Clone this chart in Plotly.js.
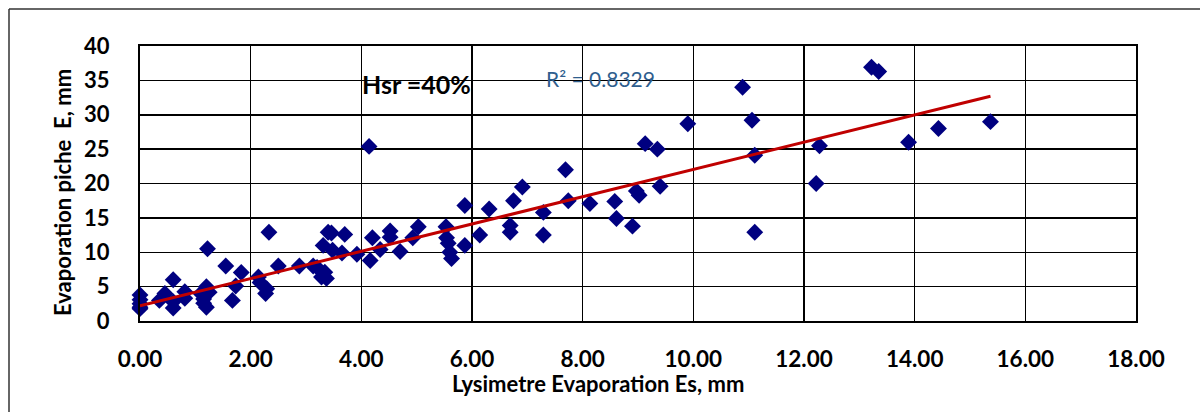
<!DOCTYPE html>
<html>
<head>
<meta charset="utf-8">
<script src="https://cdn.plot.ly/plotly-3.0.1.min.js"></script>
<style>html,body{margin:0;padding:0;background:#fff;}#chart{width:1200px;height:412px;}</style>
</head>
<body>
<div id="chart"></div>
<script>
// Lysimeter evaporation (Es, mm) vs Piche evaporation (E, mm)
const lysimetreEs = [0,0,0,0,0,0.35,0.45,0.6,0.6,0.6,0.81,0.81,1.1,1.15,1.15,1.2,1.2,1.25,1.22,1.55,1.67,1.73,1.83,2.14,2.17,2.29,2.27,2.33,2.5,2.88,3.13,3.2,3.28,3.37,3.34,3.31,3.4,3.46,3.48,3.7,3.65,3.92,4.16,4.2,4.14,4.34,4.52,4.52,4.7,4.93,5.03,5.53,5.54,5.57,5.6,5.63,5.87,5.87,6.14,6.31,6.69,6.69,6.75,6.91,7.29,7.29,7.69,7.74,8.13,8.58,8.61,8.9,8.97,9.02,9.13,9.35,9.4,9.9,10.89,11.06,11.11,11.11,12.22,12.28,13.22,13.35,13.89,14.43,15.37];
const pichE = [3.8,3.1,2.5,2.0,1.8,3.0,4.0,6.0,2.8,1.9,4.25,3.3,4.0,3.2,2.6,2.0,5.0,4.2,10.5,8.0,3.0,5.1,7.06,6.4,5.6,4.7,4.0,12.9,8.0,8.0,8.0,7.8,6.4,6.2,7.1,11.0,12.9,12.8,10.3,12.6,9.9,9.7,8.8,12.1,25.4,10.4,13.1,12.2,10.1,12.1,13.7,13.7,12.1,11.3,10.0,9.1,11.0,16.8,12.5,16.3,13.9,12.9,17.5,19.5,15.8,12.5,22.0,17.5,17.1,17.4,14.9,13.8,18.9,18.3,25.8,25.0,19.6,28.7,34.0,29.2,24.1,12.9,20.0,25.5,36.9,36.3,26.0,28.0,29.0];
const trendX = [0, 15.37];
const trendY = [2.2, 32.7];
const xTicks = [0,2,4,6,8,10,12,14,16,18];
const yTicks = [0,5,10,15,20,25,30,35,40];
const labelHsr = 'Hsr =40%';
const labelR2 = 'R² = 0.8329';
const xTitle = 'Lysimetre Evaporation Es, mm';
const yTitle = 'Evaporation piche  E, mm';

const FONT = 'Lato, "Open Sans", "DejaVu Sans", sans-serif';

const traces = [
  {x: lysimetreEs, y: pichE, type: 'scatter', mode: 'markers',
   marker: {symbol: 'diamond', size: 13, color: '#000080', line: {width: 0}},
   hoverinfo: 'skip', showlegend: false, cliponaxis: false},
  {x: trendX, y: trendY, type: 'scatter', mode: 'lines',
   line: {color: '#C00000', width: 3}, hoverinfo: 'skip', showlegend: false}
];

const pxX = p => (p - 140) / 996;
const pxY = p => (321 - p) / 275;

const layout = {
  width: 1200, height: 412,
  margin: {l: 140, r: 64, t: 46, b: 91},
  paper_bgcolor: '#ffffff', plot_bgcolor: '#ffffff',
  font: {family: FONT, color: '#000'},
  xaxis: {range: [0, 18], tickvals: xTicks, ticktext: xTicks.map(v => v.toFixed(2)),
    showgrid: true, gridcolor: '#000', gridwidth: 1.5,
    showline: true, linecolor: '#000', linewidth: 2, mirror: true,
    zeroline: false, ticks: '', ticklabelstandoff: 17,
    tickfont: {family: FONT, size: 22.5, color: '#000', weight: 'bold'}, fixedrange: true},
  yaxis: {range: [0, 40], tickvals: yTicks,
    showgrid: true, gridcolor: '#000', gridwidth: 1.5,
    showline: true, linecolor: '#000', linewidth: 2, mirror: true,
    zeroline: false, ticks: '', ticklabelstandoff: 24,
    tickfont: {family: FONT, size: 22, color: '#000', weight: 'bold'}, fixedrange: true},
  annotations: [
    {text: labelHsr, xref: 'x', yref: 'y', x: 3.97, y: 34.5, xanchor: 'left', yanchor: 'middle',
     showarrow: false, font: {family: FONT, size: 25, color: '#000', weight: 'bold'}},
    {text: labelR2, xref: 'x', yref: 'y', x: 7.3, y: 35.3, xanchor: 'left', yanchor: 'middle',
     showarrow: false, font: {family: FONT, size: 21, color: '#2F5E8E'}},
    {text: xTitle, xref: 'paper', yref: 'paper', x: pxX(598), y: pxY(383), xanchor: 'center', yanchor: 'middle',
     showarrow: false, font: {family: FONT, size: 22, color: '#000', weight: 'bold'}},
    {text: yTitle, xref: 'paper', yref: 'paper', x: pxX(62), y: pxY(193), xanchor: 'center', yanchor: 'middle',
     textangle: -90, showarrow: false, font: {family: FONT, size: 22, color: '#000', weight: 'bold'}}
  ],
  shapes: [
    {type: 'line', xref: 'paper', yref: 'paper', x0: pxX(9), x1: pxX(1200), y0: pxY(9), y1: pxY(9),
     line: {color: '#333', width: 1.5}},
    {type: 'line', xref: 'paper', yref: 'paper', x0: pxX(9), x1: pxX(9), y0: pxY(9), y1: pxY(420),
     line: {color: '#333', width: 1.5}}
  ]
};

Plotly.newPlot('chart', traces, layout, {staticPlot: true, displayModeBar: false});
</script>
</body>
</html>
